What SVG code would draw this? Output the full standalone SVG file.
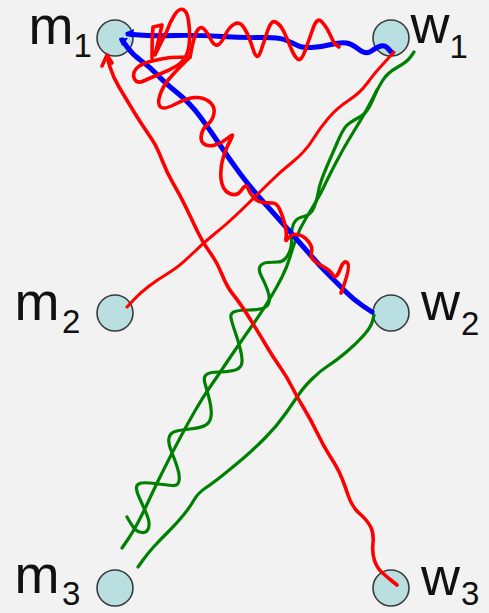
<svg xmlns="http://www.w3.org/2000/svg" width="489" height="613" viewBox="0 0 489 613">
<style>
.node circle{fill:#b9dfe1;stroke:#3a3a3a;stroke-width:1.6}
.lbl{font-family:"Liberation Sans",Arial,sans-serif;font-size:54px;fill:#111}
.sub{font-size:33px}
.c{fill:none;stroke-linecap:round;stroke-linejoin:round}
.r{stroke:#ff0000;stroke-width:3.6}
.b{stroke:#0000ff;stroke-width:5}
.g{stroke:#008000;stroke-width:3.2}
</style>
<rect width="489" height="613" fill="#f2f2f2"/>
<g id="m1" class="node"><circle cx="115" cy="38" r="18"/><text class="lbl" x="28.4" y="43.5">m<tspan class="sub" dy="13.5">1</tspan></text></g>
<g id="w1" class="node"><circle cx="391" cy="38" r="18"/><text class="lbl" x="410.5" y="43">w<tspan class="sub" dy="15">1</tspan></text></g>
<g id="m2" class="node"><circle cx="115" cy="313" r="18"/><text class="lbl" x="14.4" y="320">m<tspan class="sub" dx="2.6" dy="13">2</tspan></text></g>
<g id="w2" class="node"><circle cx="391" cy="313" r="18"/><text class="lbl" x="421" y="320">w<tspan class="sub" dx="1" dy="15">2</tspan></text></g>
<g id="m3" class="node"><circle cx="115" cy="588" r="18"/><text class="lbl" x="14.4" y="593">m<tspan class="sub" dx="2.6" dy="12">3</tspan></text></g>
<g id="w3" class="node"><circle cx="391" cy="588" r="18"/><text class="lbl" x="421" y="595">w<tspan class="sub" dx="1" dy="10">3</tspan></text></g>
<g id="connectors">
<path class="c g" d="M374,315 L372.5,321 Q371,327 364,335 Q357,343 347,351.5 Q337,360 328.5,365.5 Q320,371 312,379 Q304,387 299.5,393.5 Q295,400 286,413 Q277,426 265,438 Q253,450 243,458.5 Q233,467 223,475 Q213,483 205.5,488 Q198,493 194,500 Q190,507 183.5,515 Q177,523 168.5,531.5 Q160,540 154,546.5 Q148,553 143,560 L138,567"/>
<path class="c g" d="M122,548 L127.5,540 Q133,532 138,522.5 Q143,513 149,500 Q155,487 163.5,470 Q172,453 180,438 Q188,423 195.5,410 Q203,397 210,387 Q217,377 225,365 Q233,353 240,343 Q247,333 255,321.5 Q263,310 270,298.5 Q277,287 282,277 Q287,267 290,257 Q293,247 296.5,237.5 Q300,228 305.5,219 Q311,210 316,201.5 Q321,193 324,186.5 Q327,180 335.5,163.5 Q344,147 354,131 Q364,115 370.5,102.5 Q377,90 382,81.5 Q387,73 397,67.5 Q407,62 410.5,57 L414,52"/>
<path class="c g" d="M127,517 L129,520.5 Q131,524 134,528 Q137,532 142,532.5 Q147,533 148.5,528 Q150,523 147.5,516.5 Q145,510 141,501.5 Q137,493 136.5,489 Q136,485 139.5,483.5 Q143,482 155,483.5 Q167,485 172.5,485.5 Q178,486 179,481 Q180,476 177.5,468 Q175,460 171.5,451.5 Q168,443 169,438 Q170,433 175,431.5 Q180,430 190,429 Q200,428 205,425.5 Q210,423 211,416.5 Q212,410 209.5,400 Q207,390 205,383.5 Q203,377 206.5,374.5 Q210,372 218.5,372 Q227,372 233.5,370.5 Q240,369 241.5,364.5 Q243,360 240.5,350 Q238,340 235,331.5 Q232,323 231,318 Q230,313 235,311.5 Q240,310 248.5,310 Q257,310 262.5,308.5 Q268,307 269,302 Q270,297 267.5,290 Q265,283 261.5,276.5 Q258,270 260,266.5 Q262,263 267.5,262.5 Q273,262 277.5,262 Q282,262 285,259 Q288,256 290,250.5 Q292,245 291.5,237.5 Q291,230 293.5,224 Q296,218 303.5,216.5 Q311,215 314,207.5 Q317,200 318,193.5 Q319,187 321.5,180 Q324,173 329,161.5 Q334,150 339,138.5 Q344,127 349,123.5 Q354,120 360.5,116.5 Q367,113 372,101.5 L377,90"/>
<path class="c b" d="M128,34 L139,35 Q150,36 175,35.5 Q200,35 222,36.5 Q244,38 260.5,37.5 Q277,37 284,39.5 Q291,42 296.5,45 Q302,48 311.5,47.5 Q321,47 331,44.5 Q341,42 346.5,43 Q352,44 359,49.5 Q366,55 371.5,51 Q377,47 381,46 Q385,45 388.5,49 L392,53"/>
<path class="c b" d="M122,40 L127.5,47.5 Q133,55 141.5,61 Q150,67 157.5,75 Q165,83 177.5,93 Q190,103 200,116.5 Q210,130 220,145 Q230,160 240,173.5 Q250,187 263.5,202 Q277,217 288.5,230 Q300,243 310,254.5 Q320,266 328.5,274.5 Q337,283 345.5,291.5 Q354,300 363,306 L372,312"/>
<polygon points="125,33 134,29 133,38" fill="#0000ff"/>
<polygon points="119,38 128,38 122,46" fill="#0000ff"/>
<path class="c r" d="M107,57 L110,67 Q113,77 119,87 Q125,97 131,107 Q137,117 142,124.5 Q147,132 152,139.5 Q157,147 162,160 Q167,173 173.5,184 Q180,195 186.5,208.5 Q193,222 198,232.5 Q203,243 210,252.5 Q217,262 222,274.5 Q227,287 233.5,295 Q240,303 248.5,316.5 Q257,330 265,343.5 Q273,357 280,367 Q287,377 292,387 Q297,397 304,408.5 Q311,420 317.5,433.5 Q324,447 330.5,457 Q337,467 340.5,475 Q344,483 348,495 Q352,507 359.5,513.5 Q367,520 370.5,526.5 Q374,533 373,543 Q372,553 374.5,560.5 Q377,568 382,572.5 Q387,577 392,581 L397,585"/>
<path class="c r" d="M102,66 L107,55 L112,63"/>
<path class="c r" style="stroke-width:3" d="M127,307 L133.5,300 Q140,293 148.5,286.5 Q157,280 168.5,273 Q180,266 191.5,254.5 Q203,243 215,233.5 Q227,224 242,209.5 Q257,195 268.5,183.5 Q280,172 292.5,162 Q305,152 312.5,140 Q320,128 328.5,118 Q337,108 348.5,100.5 Q360,93 367,83.5 Q374,74 379,68.5 Q384,63 389,57.5 L394,52"/>
<path class="c r" d="M152,58 Q152,40 153,27 L162,25 Q158,42 155,55 Q162,40 166.5,32 Q170,22 174.5,15 Q179,8 183,9.5 Q187,11 188.5,20.5 Q190,30 189.5,40 Q189,50 186,56 Q183,62 176.5,66 Q170,70 160,74 Q150,78 143.5,81 Q137,84 134.5,79 Q132,74 136,69 Q140,64 150,61.5 Q160,59 170,57.5 L190,57"/>
<path class="c r" d="M190,57 L192.5,45 Q195,33 198,29.5 Q201,26 204,29 Q207,32 210.5,39 Q214,46 217.5,45 Q221,44 225,35.5 Q229,27 234.5,24 Q240,21 244.5,28.5 Q249,36 253,49 Q257,62 260.5,52 Q264,42 267.5,31 Q271,20 275.5,22 Q280,24 283.5,31 Q287,38 290.5,47 Q294,56 297.5,59 Q301,62 305,51 Q309,40 313,28.5 Q317,17 321.5,21.5 Q326,26 330,34.5 L334,43 L339,47"/>
<path class="c r" d="M190,57 L182.5,64.5 Q175,72 169,79 Q163,86 160,95 Q157,104 160.5,107 Q164,110 175.5,104 Q187,98 195,97.5 Q203,97 209,101.5 Q215,106 214,113 Q213,120 208,124 Q203,128 201.5,134.5 Q200,141 204,144 Q208,147 215,145 Q222,143 228.5,137.5 Q235,132 231,139 Q227,146 223.5,156.5 Q220,167 221,178.5 Q222,190 229.5,193.5 Q237,197 241.5,190 Q246,183 248,188.5 Q250,194 254,198 Q258,202 263,202.5 Q268,203 272.5,203 Q277,203 280,210 Q283,217 285,225 Q287,233 286,238 Q285,243 288,238.5 Q291,234 297,234.5 Q303,235 308,241 Q313,247 311.5,252 Q310,257 314,260.5 Q318,264 324,267 Q330,270 333,275 Q336,280 340,269.5 Q344,259 347.5,263 Q351,267 341,293"/>
</g>
</svg>
